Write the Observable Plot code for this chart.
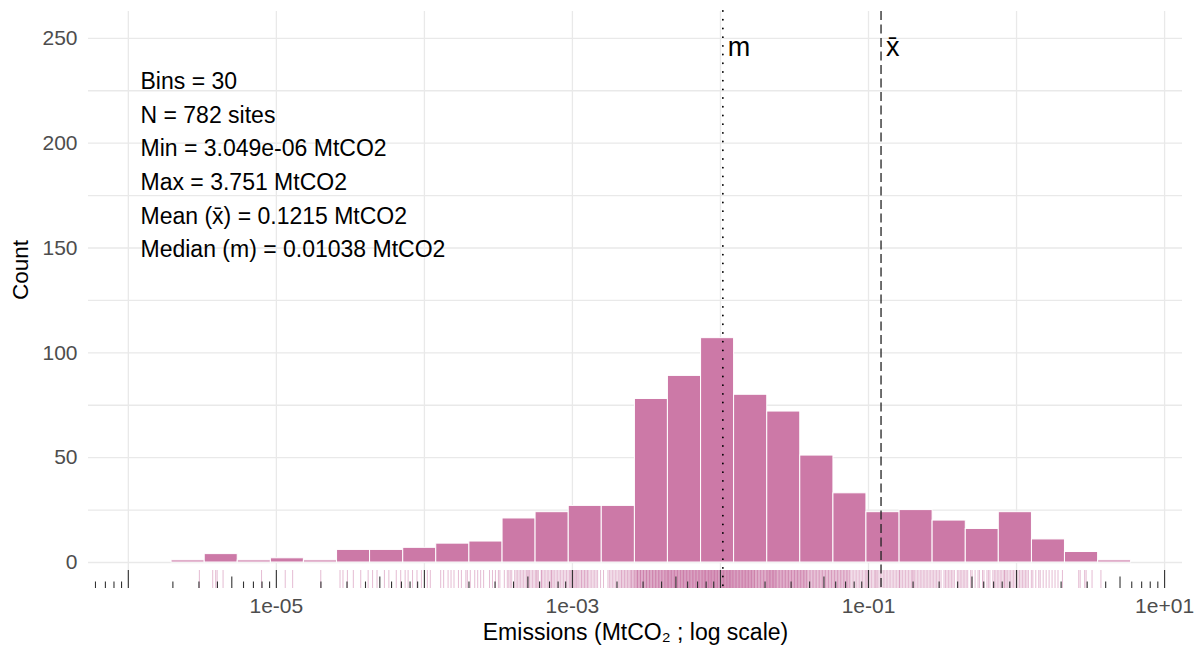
<!DOCTYPE html>
<html><head><meta charset="utf-8">
<script src="https://cdn.jsdelivr.net/npm/d3@7"></script>
<script src="https://cdn.jsdelivr.net/npm/@observablehq/plot@0.6"></script>
<style>html,body{margin:0;padding:0;background:#fff;} svg{display:block;}</style>
</head><body><div id="chart"></div>
<script>
// Histogram bin edges (log10 MtCO2) and counts
const binEdgesLog10 = [-5.708,-5.484,-5.261,-5.037,-4.814,-4.590,-4.367,-4.143,-3.920,-3.696,-3.472,-3.249,-3.025,-2.802,-2.578,-2.355,-2.131,-1.908,-1.684,-1.461,-1.237,-1.014,-0.790,-0.567,-0.343,-0.120,0.104,0.327,0.551,0.774];
const binCounts = [1,4,1,2,1,6,6,7,9,10,21,24,27,27,78,89,107,80,72,51,33,24,25,20,16,24,11,5,1];

// Rug: site emissions, log10(MtCO2) x 100
const rugLog10x100 = [
-552,
-543,-541,-540,-536,
-510,
-494,-489,
-470,
-457,-455,-452,-448,-443,-438,
-435,-432,-427,-424,-419,-416,
-413,-411,-408,-405,-402,-398,-396,
-389,-387,-384,-382,-380,-377,-375,-372,-371,
-369,-366,-364,-362,-360,-356,-354,-352,-350,-349,
-346,-344,-343,-342,-341,-339,-338,-337,-336,-335,-334,-333,-332,-331,-330,-330,-329,-328,-327,-326,-325,
-324,-324,-323,-321,-321,-320,-319,-318,-317,-316,-315,-314,-314,-313,-312,-311,-310,-309,-308,-307,-306,-305,-304,-303,
-302,-301,-301,-300,-299,-299,-298,-297,-297,-296,-295,-294,-294,-293,-292,-292,-291,-290,-290,-289,-288,-287,-286,-285,-284,-283,-281,
-279,-276,-275,-274,-273,-272,-271,-270,-269,-268,-267,-267,-266,-265,-265,-264,-263,-263,-262,-261,-261,-260,-260,-259,-259,-258,-258,
-257,-257,-257,-256,-256,-256,-256,-255,-255,-255,-254,-254,-254,-254,-253,-253,-253,-252,-252,-252,-252,-251,-251,-251,-250,-250,-250,-250,-249,-249,-249,-248,-248,-248,-248,-247,-247,-247,-246,-246,-246,-246,-245,-245,-245,-244,-244,-244,-244,-243,-243,-243,-242,-242,-242,-242,-241,-241,-241,-240,-240,-240,-240,-239,-239,-239,-238,-238,-238,-238,-237,-237,-237,-236,-236,-236,-236,-236,
-235,-235,-235,-235,-234,-234,-234,-234,-233,-233,-233,-233,-232,-232,-232,-232,-231,-231,-231,-231,-230,-230,-230,-230,-229,-229,-229,-229,-228,-228,-228,-228,-227,-227,-227,-227,-226,-226,-226,-226,-225,-225,-225,-225,-225,-224,-224,-224,-224,-223,-223,-223,-223,-222,-222,-222,-222,-221,-221,-221,-221,-220,-220,-220,-220,-219,-219,-219,-219,-218,-218,-218,-218,-217,-217,-217,-217,-216,-216,-216,-216,-215,-215,-215,-215,-214,-214,-214,-214,
-213,-213,-213,-213,-212,-212,-212,-212,-211,-211,-211,-211,-211,-210,-210,-210,-210,-210,-209,-209,-209,-209,-208,-208,-208,-208,-208,-207,-207,-207,-207,-207,-206,-206,-206,-206,-205,-205,-205,-205,-205,-204,-204,-204,-204,-204,-203,-203,-203,-203,-203,-202,-202,-202,-202,-202,-201,-201,-201,-201,-200,-200,-200,-200,-200,-199,-199,-199,-199,-199,-198,-198,-198,-198,-198,-197,-197,-197,-197,-197,-196,-196,-196,-196,-195,-195,-195,-195,-195,-194,-194,-194,-194,-194,-193,-193,-193,-193,-193,-192,-192,-192,-192,-191,-191,-191,-191,
-190,-190,-190,-190,-189,-189,-189,-189,-188,-188,-188,-188,-187,-187,-187,-187,-186,-186,-186,-186,-185,-185,-185,-185,-184,-184,-184,-184,-183,-183,-183,-183,-182,-182,-182,-182,-181,-181,-181,-181,-180,-180,-180,-180,-179,-179,-179,-179,-178,-178,-178,-178,-177,-177,-177,-177,-176,-176,-176,-175,-175,-175,-174,-174,-174,-173,-173,-173,-172,-172,-172,-171,-171,-171,-170,-170,-170,-169,-169,-169,
-168,-168,-168,-168,-167,-167,-167,-167,-166,-166,-166,-166,-165,-165,-165,-165,-164,-164,-164,-164,-163,-163,-163,-163,-162,-162,-162,-161,-161,-161,-160,-160,-160,-159,-159,-159,-158,-158,-158,-157,-157,-157,-156,-156,-156,-155,-155,-155,-154,-154,-154,-153,-153,-153,-152,-152,-152,-151,-151,-151,-150,-150,-150,-149,-149,-149,-148,-148,-148,-147,-147,-147,
-146,-146,-146,-145,-145,-145,-144,-144,-144,-143,-143,-143,-142,-142,-142,-141,-141,-140,-140,-139,-139,-138,-138,-137,-137,-136,-136,-135,-135,-134,-134,-133,-133,-132,-132,-131,-131,-130,-130,-129,-129,-128,-128,-127,-127,-126,-126,-125,-125,-124,-124,
-123,-123,-122,-122,-121,-121,-120,-120,-119,-119,-118,-118,-117,-117,-116,-116,-115,-115,-114,-114,-113,-113,-112,-111,-110,-109,-108,-107,-106,-105,-104,-103,-102,
-101,-101,-100,-99,-98,-97,-96,-95,-95,-94,-93,-92,-91,-90,-89,-88,-87,-86,-85,-84,-83,-82,-81,-80,
-79,-79,-78,-77,-76,-75,-74,-73,-72,-71,-70,-70,-69,-68,-67,-66,-65,-64,-63,-62,-61,-60,-59,-58,-57,
-56,-55,-54,-53,-52,-51,-49,-48,-47,-46,-45,-44,-43,-42,-40,-39,-38,-37,-36,-35,
-34,-33,-31,-30,-28,-26,-25,-23,-22,-20,-19,-18,-16,-15,-14,-13,
-12,-11,-10,-9,-8,-8,-7,-6,-5,-4,-3,-2,-1,0,1,2,3,4,5,6,7,8,10,
11,13,15,16,18,20,22,24,26,28,31,
42,43,46,47,51,
57
];

const statLines = ["Bins = 30","N = 782 sites","Min = 3.049e-06 MtCO2","Max = 3.751 MtCO2","Mean (x\u0304) = 0.1215 MtCO2","Median (m) = 0.01038 MtCO2"];
const centreValues = [0.01038, 0.1215];
const centreLabels = ["m", "x\u0304"];
const xTickValues = [1e-5, 1e-3, 1e-1, 1e1];
const xGridValues = [1e-6, 1e-5, 1e-4, 1e-3, 1e-2, 1e-1, 1, 10];
const yTickValues = [0, 50, 100, 150, 200, 250];
const yGridValues = [0, 25, 50, 75, 100, 125, 150, 175, 200, 225, 250];
const xTitle = "Emissions (MtCO\u2082 ; log scale)";
const yTitle = "Count";

const bins = binCounts.map((c, i) => ({x1: 10 ** binEdgesLog10[i], x2: 10 ** binEdgesLog10[i + 1], count: c}));
const rug = rugLog10x100.map(v => 10 ** (v / 100));
const xDomain = [10 ** -6.269, 10 ** 1.121];
const logTicks = d3.scaleLog().domain(xDomain).ticks();
const mant = v => Math.round(v / 10 ** Math.floor(Math.log10(v) + 1e-9));
const fmt = v => { const e = Math.round(Math.log10(v)); return "1e" + (e < 0 ? "-" : "+") + String(Math.abs(e)).padStart(2, "0"); };
const FH = 657 - 11 - 69; // frame height

const chart = Plot.plot({
  width: 1202, height: 657,
  marginTop: 11, marginRight: 20, marginBottom: 69, marginLeft: 88,
  style: {fontFamily: "'Liberation Sans', Arial, Helvetica, sans-serif", background: "#fff", overflow: "visible"},
  x: {type: "log", domain: xDomain},
  y: {domain: [-12.4, 262.8]},
  marks: [
    Plot.ruleY(yGridValues, {stroke: "#e9e9e9", strokeWidth: 1.3}),
    Plot.ruleX(xGridValues, {stroke: "#e9e9e9", strokeWidth: 1.3}),
    Plot.rect(bins, {x1: "x1", x2: "x2", y1: d => 0, y2: "count", fill: "#CC79A7", stroke: "#ffffff", strokeWidth: 1}),
    Plot.ruleX(rug, {x: d => d, stroke: "#CC79A7", strokeOpacity: 0.5, strokeWidth: 1, insetTop: FH - 18}),
    Plot.ruleX(logTicks.filter(v => mant(v) === 1), {x: d => d, stroke: "#333", strokeWidth: 1.1, insetTop: FH - 18}),
    Plot.ruleX(logTicks.filter(v => mant(v) === 5), {x: d => d, stroke: "#333", strokeWidth: 1.1, insetTop: FH - 11.5}),
    Plot.ruleX(logTicks.filter(v => mant(v) !== 1 && mant(v) !== 5), {x: d => d, stroke: "#333", strokeWidth: 1.1, insetTop: FH - 6.5}),
    Plot.ruleX([centreValues[0]], {x: d => d, stroke: "#000", strokeWidth: 1.8, strokeDasharray: "0.1,8.6", strokeLinecap: "round"}),
    Plot.ruleX([centreValues[1]], {x: d => d, stroke: "#222", strokeWidth: 1.3, strokeDasharray: "9,4.5"}),
    Plot.text(centreValues, {x: d => d, text: (d, i) => centreLabels[i], frameAnchor: "top", dy: 25, dx: 5, textAnchor: "start", fontSize: 27, fill: "#000"}),
    Plot.text([statLines.join("\n")], {frameAnchor: "top-left", dx: 52, dy: 53.5, lineAnchor: "top", lineHeight: 1.465, fontSize: 23, textAnchor: "start", fill: "#000"}),
    Plot.axisX(xTickValues, {tickSize: 0, tickPadding: 10, fontSize: 21, color: "#4d4d4d", tickFormat: fmt, label: null}),
    Plot.axisY(yTickValues, {tickSize: 0, tickPadding: 11, fontSize: 21, color: "#4d4d4d", label: null}),
    Plot.text([xTitle], {frameAnchor: "bottom", dy: 51, fontSize: 23, fill: "#000"}),
    Plot.text([yTitle], {frameAnchor: "left", dx: -68, rotate: -90, fontSize: 22.5, fill: "#000"})
  ]
});
document.getElementById("chart").appendChild(chart);
</script>
</body></html>
